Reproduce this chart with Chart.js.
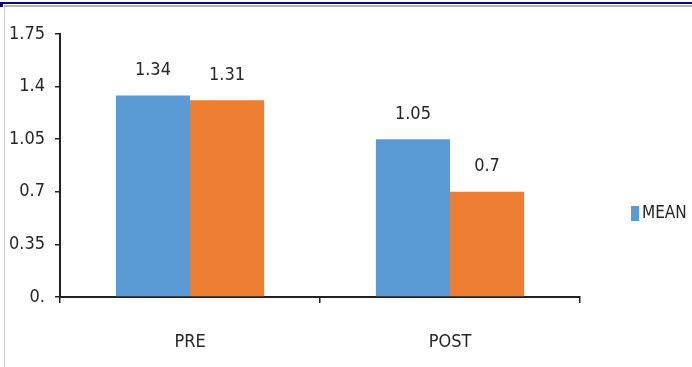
<!DOCTYPE html>
<html>
<head>
<meta charset="utf-8">
<script src="https://cdn.jsdelivr.net/npm/chart.js@4"></script>
<style>
  html, body { margin: 0; padding: 0; background: #fff; }
  #wrap { position: relative; width: 692px; height: 367px; overflow: hidden; }
  .rule-top { position: absolute; left: 0; top: 2px; width: 692px; height: 2px; background: #0b0b6b; }
  .rule-top2 { position: absolute; left: 4px; top: 5px; width: 688px; height: 2px; background: #b4b4b4; }
  .rule-corner { position: absolute; left: 0; top: 2px; width: 3px; height: 5px; background: #0b0b6b; }
  .rule-left { position: absolute; left: 4px; top: 7px; width: 1px; height: 360px; background: #cfcfcf; }
  canvas { position: absolute; left: 0; top: 0; }
</style>
</head>
<body>
<div id="wrap">
  <div class="rule-top"></div>
  <div class="rule-top2"></div>
  <div class="rule-corner"></div>
  <div class="rule-left"></div>
  <canvas id="chart" width="692" height="367"></canvas>
</div>
<script>
const categories = ["PRE", "POST"]
const meanValues = [1.34, 1.05]
const secondValues = [1.31, 0.7]
const yTickValues = [0, 0.35, 0.7, 1.05, 1.4, 1.75]
const yTickLabels = ["0.", "0.35", "0.7", "1.05", "1.4", "1.75"]

const FONT = '"Liberation Sans Narrow", "DejaVu Sans Condensed", "Roboto Condensed", sans-serif'
const TEXT = "#262626"

// numbers above each bar
const valueLabels = {
    id: "valueLabels",
    afterDatasetsDraw(chart) {
        const ctx = chart.ctx
        ctx.save()
        ctx.font = "18px " + FONT
        ctx.fillStyle = TEXT
        ctx.textAlign = "center"
        ctx.textBaseline = "middle"
        chart.data.datasets.forEach((ds, i) => {
            chart.getDatasetMeta(i).data.forEach((bar, j) => {
                ctx.fillText(String(ds.data[j]), bar.x, bar.y - 25)
            })
        })
        ctx.restore()
    }
}

// single legend entry on the right, like the original sheet
const sideLegend = {
    id: "sideLegend",
    afterDraw(chart) {
        const ctx = chart.ctx
        const ds = chart.data.datasets[0]
        const x = chart.chartArea.right + 51
        const y = 213
        ctx.save()
        ctx.fillStyle = ds.backgroundColor
        ctx.fillRect(x, y - 7, 8, 15)
        ctx.font = "17px " + FONT
        ctx.fillStyle = TEXT
        ctx.textAlign = "left"
        ctx.textBaseline = "middle"
        ctx.fillText(ds.label, x + 11, y + 1)
        ctx.restore()
    }
}

new Chart(document.getElementById("chart").getContext("2d"), {
    type: "bar",
    data: {
        labels: categories,
        datasets: [
            {
                label: "MEAN",
                data: meanValues,
                backgroundColor: "#5B9BD5",
                categoryPercentage: 0.57,
                barPercentage: 1
            },
            {
                label: "",
                data: secondValues,
                backgroundColor: "#ED7D31",
                categoryPercentage: 0.57,
                barPercentage: 1
            }
        ]
    },
    options: {
        responsive: false,
        animation: false,
        layout: { padding: { left: 0, top: 34, right: 112, bottom: 0 } },
        plugins: {
            legend: { display: false },
            tooltip: { enabled: false }
        },
        scales: {
            x: {
                grid: {
                    display: true,
                    drawOnChartArea: false,
                    offset: true,
                    tickLength: 6,
                    color: "#222",
                    lineWidth: 1.5
                },
                border: { display: true, color: "#222", width: 2 },
                ticks: { color: TEXT, font: { family: FONT, size: 18 }, padding: 29 },
                afterFit(scale) { scale.height = 70 }
            },
            y: {
                min: 0,
                max: 1.75,
                afterBuildTicks(scale) {
                    scale.ticks = yTickValues.map(v => ({ value: v }))
                },
                grid: {
                    display: true,
                    drawOnChartArea: false,
                    tickLength: 5,
                    color: "#222",
                    lineWidth: 1.5
                },
                border: { display: true, color: "#222", width: 2 },
                ticks: {
                    color: TEXT,
                    font: { family: FONT, size: 18 },
                    padding: 10,
                    callback: (v, i) => yTickLabels[i]
                },
                afterFit(scale) { scale.width = 60 }
            }
        }
    },
    plugins: [valueLabels, sideLegend]
})
</script>
</body>
</html>
